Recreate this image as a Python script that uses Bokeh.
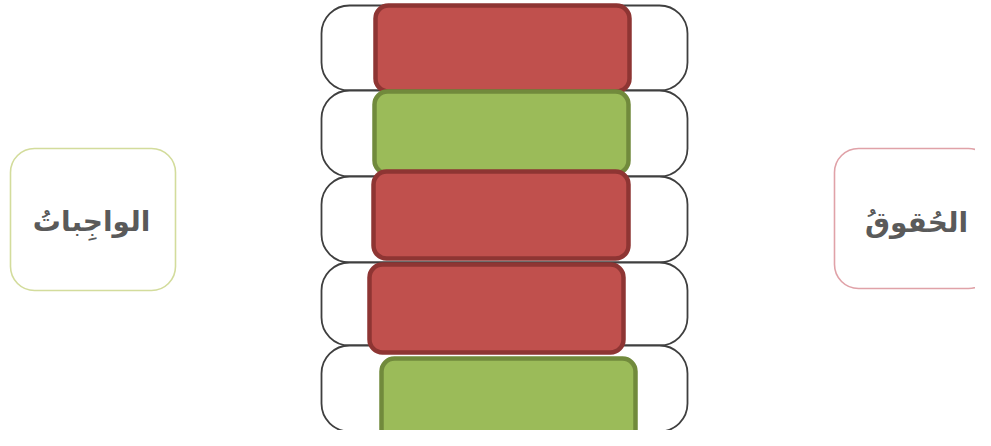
from bokeh.plotting import figure
from bokeh.models import ColumnDataSource, Range1d
from bokeh.core.properties import value
from bokeh.embed import file_html
from bokeh.resources import INLINE

# --- data (diagram in image-pixel units) ---
row_names = ["1", "2", "3", "4", "5"]
row_left = [321, 321, 321, 321, 321]
row_right = [687, 687, 687, 687, 687]
row_top = [5, 90, 176, 262, 345]
row_bottom = [90, 176, 262, 345, 431]

card_kind = ["red", "green", "red", "red", "green"]
card_left = [375, 374, 373, 369, 381]
card_right = [629, 628, 628, 623, 635]
card_top = [5, 91, 171, 264, 358]
card_bottom = [91, 173, 258, 352, 443]

side_labels = ["الواجِباتُ", "الحُقوقُ"]
side_left = [10, 834]
side_right = [175, 992]
side_top = [148, 148]
side_bottom = [290, 288]
side_x = [91, 916]
side_y = [221, 222]
side_border = ["#d3dc9c", "#e0a2a8"]

fill_map = {"red": "#C0504D", "green": "#9BBB59"}
line_map = {"red": "#8E3533", "green": "#718A3C"}

W, H = 975, 430
p = figure(width=W, height=H, output_backend="svg", toolbar_location=None,
           x_range=Range1d(0, W), y_range=Range1d(H, 0),
           min_border=0, background_fill_color="white", border_fill_color="white")
p.axis.visible = False
p.grid.visible = False
p.outline_line_color = None

rows = ColumnDataSource(dict(left=row_left, right=row_right, top=row_top, bottom=row_bottom))
p.quad(left="left", right="right", top="top", bottom="bottom", source=rows,
       fill_color="white", line_color="#3f3f3f", line_width=1.8, border_radius=28)

cards = ColumnDataSource(dict(left=card_left, right=card_right, top=card_top, bottom=card_bottom,
                              fill=[fill_map[k] for k in card_kind],
                              line=[line_map[k] for k in card_kind]))
p.quad(left="left", right="right", top="top", bottom="bottom", source=cards,
       fill_color="fill", line_color="line", line_width=4.5, border_radius=13)

sides = ColumnDataSource(dict(left=side_left, right=side_right, top=side_top, bottom=side_bottom,
                              line=side_border, x=side_x, y=side_y, t=side_labels))
p.quad(left="left", right="right", top="top", bottom="bottom", source=sides,
       fill_color="white", line_color="line", line_width=1.6, border_radius=24)
p.text(x="x", y="y", text="t", source=sides, text_font=value("DejaVu Sans"),
       text_font_style="bold", text_font_size="28px", text_color="#5a5a5a",
       text_align="center", text_baseline="middle")

open("out.html", "w").write(file_html(p, INLINE))
